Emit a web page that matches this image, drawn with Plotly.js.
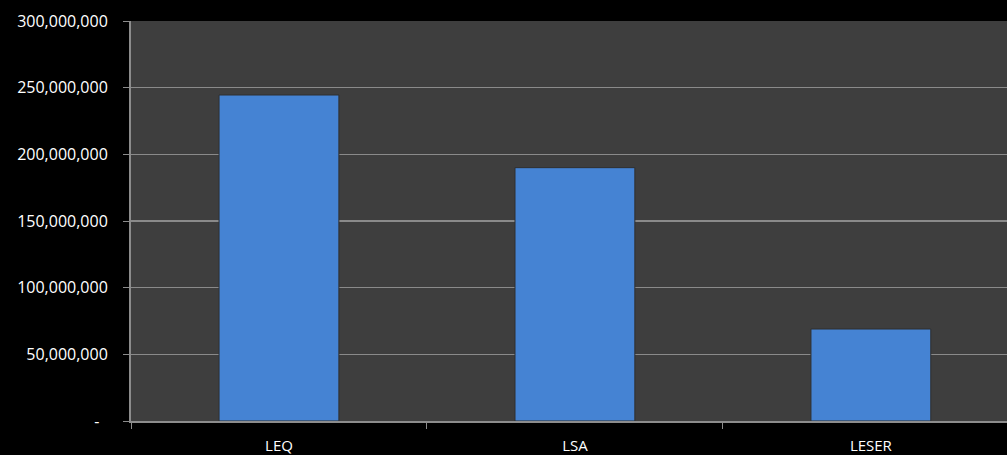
<!DOCTYPE html>
<html>
<head>
<meta charset="utf-8">
<script src="https://cdn.plot.ly/plotly-3.0.1.min.js"></script>
<style>html,body{margin:0;padding:0;background:#000;}#chart{width:1007px;height:455px;}</style>
</head>
<body>
<div id="chart"></div>
<script>
const categories = ["LEQ", "LSA", "LESER"];
const values = [244500000, 190000000, 69000000];
const yTickVals = [0, 50000000, 100000000, 150000000, 200000000, 250000000, 300000000];
const yTickText = ["-\u00a0\u00a0", "50,000,000", "100,000,000", "150,000,000", "200,000,000", "250,000,000", "300,000,000"];

const trace = {
  type: "bar",
  x: categories,
  y: values,
  width: 0.405,
  marker: {
    color: "#4583d3",
    line: {color: "#2f2f2f", width: 1}
  },
  hoverinfo: "x+y"
};

const layout = {
  width: 1007,
  height: 455,
  margin: {l: 131, r: 0, t: 21, b: 34},
  paper_bgcolor: "#000000",
  plot_bgcolor: "#3e3e3e",
  showlegend: false,
  font: {family: "Open Sans, Liberation Sans, sans-serif", color: "#ffffff", size: 16},
  xaxis: {
    type: "category",
    range: [-0.5, 2.46],
    showgrid: false,
    showline: true,
    linecolor: "#8c8c8c",
    linewidth: 2,
    ticks: "outside",
    tickson: "boundaries",
    ticklen: 6,
    tickcolor: "#8c8c8c",
    tickfont: {size: 15, color: "#ffffff"},
    ticklabelstandoff: 10,
    zeroline: false,
    fixedrange: true
  },
  yaxis: {
    range: [0, 300000000],
    tickvals: yTickVals,
    ticktext: yTickText,
    showgrid: true,
    gridcolor: "#8a8a8a",
    gridwidth: 1.5,
    showline: true,
    linecolor: "#8c8c8c",
    linewidth: 2,
    ticks: "outside",
    ticklen: 6,
    tickcolor: "#8c8c8c",
    tickfont: {size: 16, color: "#ffffff"},
    ticklabelstandoff: 12,
    zeroline: false,
    fixedrange: true
  }
};

Plotly.newPlot("chart", [trace], layout, {displayModeBar: false, staticPlot: true});
</script>
</body>
</html>
